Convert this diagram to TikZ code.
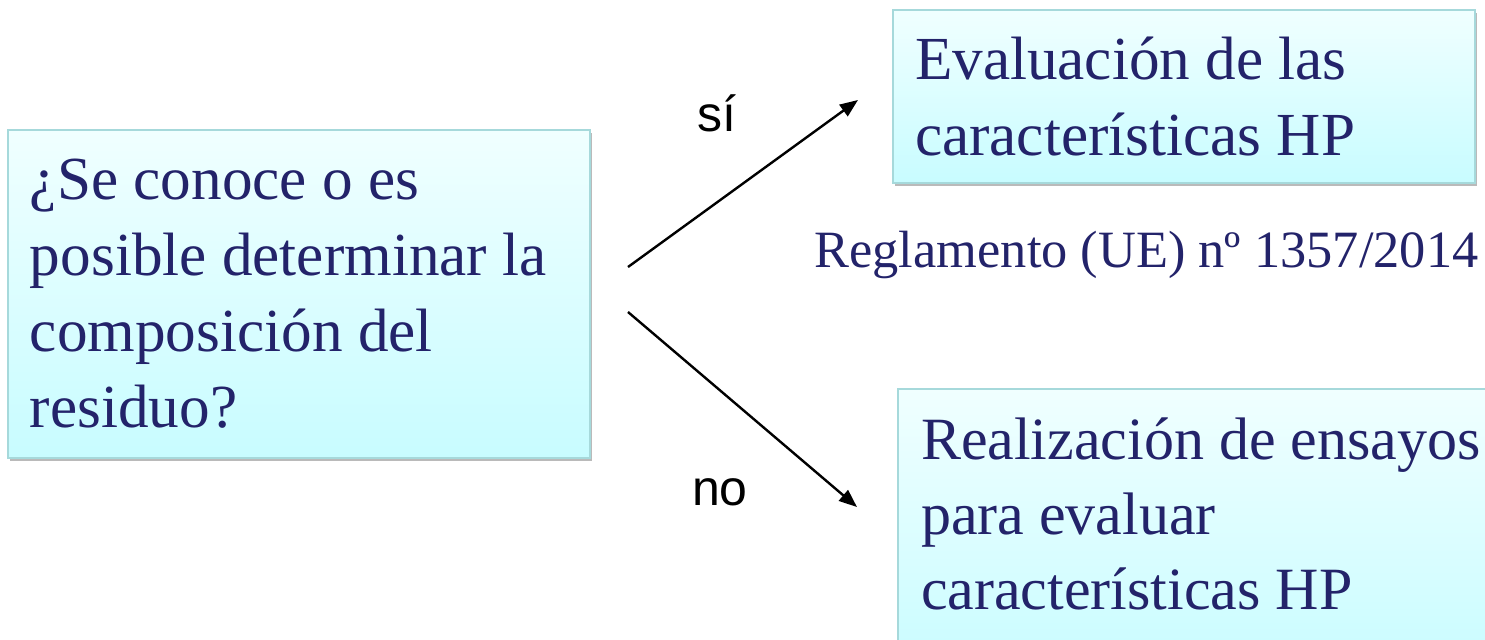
\documentclass[tikz,border=0pt]{standalone}
\usepackage{fontspec}
\setmainfont{Liberation Serif}
\newfontfamily\labelfont{Liberation Sans}
\usetikzlibrary{arrows.meta,shadows}
\definecolor{boxtop}{HTML}{F0FFFF}
\definecolor{boxbot}{HTML}{C8FCFF}
\definecolor{boxline}{HTML}{A6D9DB}
\definecolor{navy}{HTML}{23236A}

\begin{document}
\begin{tikzpicture}[x=0.5pt,y=-0.5pt,
    box/.style={rectangle,draw=boxline,line width=1pt,top color=boxtop,bottom color=boxbot,
      drop shadow={shadow xshift=1pt,shadow yshift=-1.5pt,fill=black!45,opacity=.6},
      text=navy,align=left,inner xsep=11pt,font=\fontsize{30.6}{38}\selectfont,
      execute at begin node={\spaceskip=0.25em\relax}},
    branch/.style={line width=1.2pt,-{Triangle[length=9pt,width=7pt]}},
    answer/.style={font=\labelfont\fontsize{25}{30}\selectfont}]
  \useasboundingbox (0,0) rectangle (1485,639);
  \clip (0,0) rectangle (1485,639);

    \node (q) [box,text width=269pt,minimum height=164pt] at (299,294)
      {¿Se conoce o es\\ posible determinar la\\ composición del\\ residuo?};

    \node (eval) [box,text width=269pt,minimum height=86.5pt] at (1184,96.5)
      {Evaluación de las\\ características HP};

    \node (test) [box,font=\fontsize{30}{37.5}\selectfont,text width=330pt,inner xsep=11.5pt,inner ysep=14.5pt,text depth=94pt,anchor=north west] at (897,388)
      {Realización de ensayos\\ para evaluar\\ características HP};

    \node (reg) [text=navy,font=\fontsize{26.2}{30}\selectfont] at (1146.5,255) {Reglamento (UE) nº 1357/2014};

    \coordinate (yes-from) at (628,267);
    \coordinate (yes-to) at (858,100);
    \coordinate (no-from) at (628,312);
    \coordinate (no-to) at (857,507);

    \node (yes) [answer] at (717,113) {sí};
    \node (no) [answer] at (720,492) {no};

  \draw[branch] (yes-from) -- (yes-to);
  \draw[branch] (no-from) -- (no-to);
\end{tikzpicture}
\end{document}
